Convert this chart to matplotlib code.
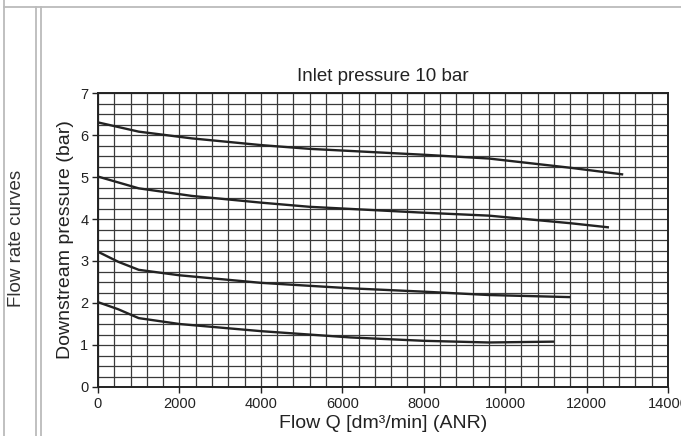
import matplotlib
matplotlib.use("Agg")
import matplotlib.pyplot as plt
from matplotlib.lines import Line2D
import numpy as np

plt.rcParams['font.family'] = ['Liberation Sans', 'DejaVu Sans']

# Data
flow_1 = [0, 1000, 2300, 4000, 5200, 6200, 8000, 9600, 11600, 12900]
pres_1 = [6.30, 6.08, 5.92, 5.76, 5.67, 5.62, 5.53, 5.44, 5.22, 5.06]

flow_2 = [0, 1000, 2300, 4000, 5200, 6200, 8000, 9600, 11600, 12550]
pres_2 = [5.01, 4.73, 4.55, 4.39, 4.29, 4.24, 4.15, 4.08, 3.90, 3.80]

flow_3 = [0, 500, 1000, 2000, 4000, 6200, 8000, 9600, 11600]
pres_3 = [3.22, 2.98, 2.79, 2.66, 2.48, 2.35, 2.27, 2.19, 2.14]

flow_4 = [0, 500, 1000, 2000, 4000, 6200, 8000, 9600, 11200]
pres_4 = [2.02, 1.85, 1.64, 1.50, 1.33, 1.18, 1.10, 1.06, 1.08]

x_ticks = [0, 2000, 4000, 6000, 8000, 10000, 12000, 14000]
y_ticks = [0, 1, 2, 3, 4, 5, 6, 7]

title = "Inlet pressure 10 bar"
xlabel = "Flow Q [dm³/min] (ANR)"
ylabel = "Downstream pressure (bar)"
side_label = "Flow rate curves"

fig = plt.figure(figsize=(6.81, 4.36), dpi=100)
ax = fig.add_axes([98/681, 1-387/436, (668-98)/681, (387-93)/436])

ax.set_xlim(0, 14000)
ax.set_ylim(0, 7)
ax.set_xticks(x_ticks)
ax.set_yticks(y_ticks)
ax.set_xticks(np.arange(0, 14001, 400), minor=True)
ax.set_yticks(np.arange(0, 7.01, 0.25), minor=True)
ax.grid(which='both', color='#3a3a3a', linewidth=0.9)
ax.tick_params(which='minor', length=0)
ax.tick_params(which='major', length=4, width=1, color='#222222', labelsize=10.5,
               labelcolor='#222222', pad=3)
for s in ax.spines.values():
    s.set_color('#222222')
    s.set_linewidth(1.4)
ax.set_axisbelow(True)

for fx, py in [(flow_1, pres_1), (flow_2, pres_2), (flow_3, pres_3), (flow_4, pres_4)]:
    ax.plot(fx, py, color='#222222', linewidth=1.7, solid_capstyle='butt')

ax.set_title(title, fontsize=13.5, color='#222222', pad=9)
ax.set_xlabel(xlabel, fontsize=14, color='#222222', labelpad=3)
ax.set_ylabel(ylabel, fontsize=14, color='#222222', labelpad=4)

fig.text(17/681, 1-238/436, side_label, rotation=90, fontsize=13.5, color='#333333',
         ha='center', va='center')

# frame lines
gray = '#bbbbbb'
fig.add_artist(Line2D([4/681, 1], [1-7/436, 1-7/436], color=gray, linewidth=1.3,
                      transform=fig.transFigure))
fig.add_artist(Line2D([4/681, 4/681], [0, 1], color=gray, linewidth=1.3,
                      transform=fig.transFigure))
fig.add_artist(Line2D([36/681, 36/681], [0, 1-7/436], color=gray, linewidth=1.3,
                      transform=fig.transFigure))
fig.add_artist(Line2D([41/681, 41/681], [0, 1-7/436], color=gray, linewidth=1.3,
                      transform=fig.transFigure))

fig.savefig("out.png", dpi=100)
